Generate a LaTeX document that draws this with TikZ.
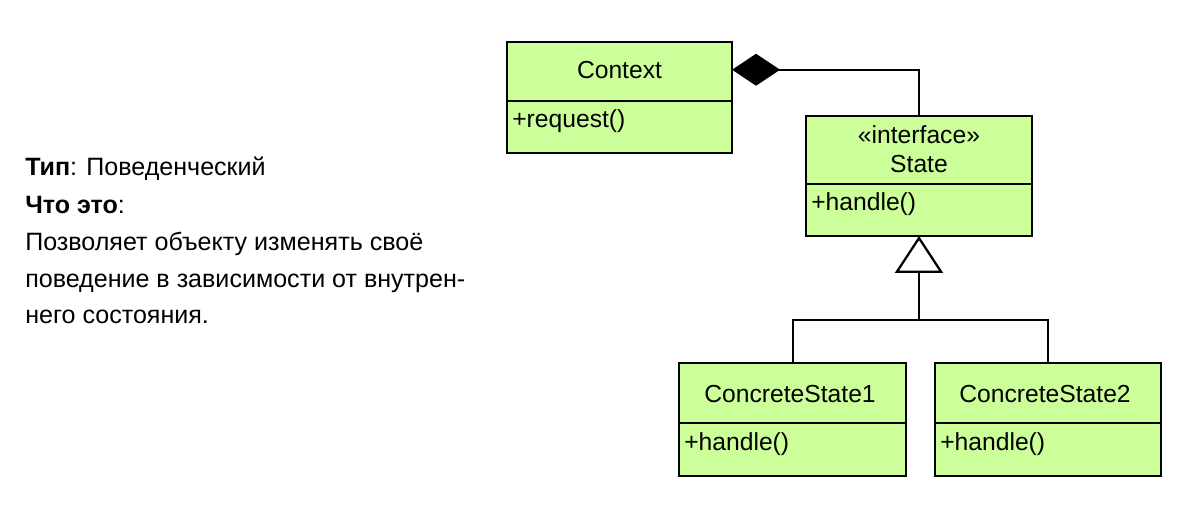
\documentclass[tikz,border=0pt]{standalone}
\usepackage{fontspec}
\setmainfont{Liberation Sans}
\usetikzlibrary{arrows.meta,calc}
\definecolor{boxgreen}{RGB}{204,255,153}
\tikzset{
  umlbox/.style={draw, line width=2.1pt, fill=boxgreen, rectangle, inner sep=0pt, outer sep=0pt},
  divider/.style={line width=2.1pt},
  conn/.style={line width=1.5pt},
  txt/.style={inner sep=0pt, font=\fontsize{18.5}{22}\selectfont},
  desc/.style={inner sep=0pt, font=\fontsize{18.8}{22}\selectfont},
}
\begin{document}
\begin{tikzpicture}[x=0.75pt,y=-0.75pt]
\useasboundingbox (0,0) rectangle (1193,516);
% boxes
\node[umlbox, minimum width=225*0.75pt, minimum height=111*0.75pt] (ctx) at (619.5,97.5) {};
\node[umlbox, minimum width=226*0.75pt, minimum height=120*0.75pt] (state) at (919,176) {};
\node[umlbox, minimum width=227*0.75pt, minimum height=113*0.75pt] (cs1) at (792.5,419.5) {};
\node[umlbox, minimum width=226*0.75pt, minimum height=113*0.75pt] (cs2) at (1048,419.5) {};
% dividers
\draw[divider] (ctx.west |- 0,101) -- (ctx.east |- 0,101);
\draw[divider] (state.west |- 0,184) -- (state.east |- 0,184);
\draw[divider] (cs1.west |- 0,423) -- (cs1.east |- 0,423);
\draw[divider] (cs2.west |- 0,423) -- (cs2.east |- 0,423);
% texts in boxes
\node[txt, anchor=base] (ctxname) at (619.5,79) {Context};
\node[txt, anchor=base west] (ctxop) at (512,128) {+request()};
\node[txt, anchor=base] (stster) at (919,144) {«interface»};
\node[txt, anchor=base] (stname) at (919,173) {State};
\node[txt, anchor=base west] (stop) at (811,211) {+handle()};
\node[txt, anchor=base] (cs1name) at (790,403) {ConcreteState1};
\node[txt, anchor=base west] (cs1op) at (684,451) {+handle()};
\node[txt, anchor=base] (cs2name) at (1045,403) {ConcreteState2};
\node[txt, anchor=base west] (cs2op) at (940,451) {+handle()};
% connectors
\coordinate (ctxport) at ($(ctx.north east)!0.25!(ctx.south east)$);
\draw[conn, -{Diamond[length=48*0.75pt, width=32*0.75pt]}] (state.north) |- (ctxport);
\coordinate (junction) at (919,320.5);
\draw[conn, -{Triangle[length=37*0.75pt, width=48*0.75pt, fill=white, line width=1.7pt]}] (junction) -- (state.south);
\draw[conn] (cs1.north) |- (junction) -| (cs2.north);
% left description
\node[desc, anchor=base west] (l1) at (25,176) {\textbf{Тип}: Поведенческий};
\node[desc, anchor=base west] (l2) at (25,214) {\textbf{Что это}:};
\node[desc, anchor=base west] (l3) at (25,251) {Позволяет объекту изменять своё};
\node[desc, anchor=base west] (l4) at (25,288) {поведение в зависимости от внутрен-};
\node[desc, anchor=base west] (l5) at (25,324) {него состояния.};
\end{tikzpicture}
\end{document}
